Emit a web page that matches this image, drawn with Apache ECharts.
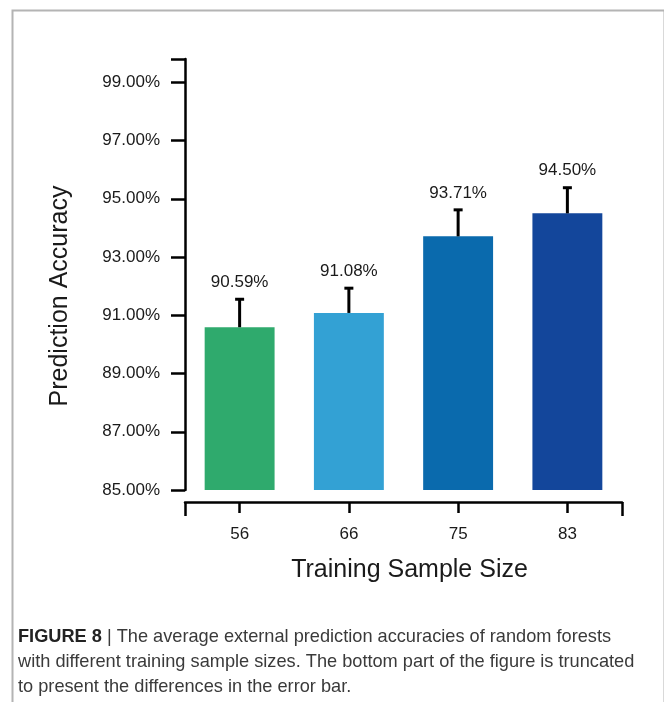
<!DOCTYPE html>
<html>
<head>
<meta charset="utf-8">
<title>Prediction accuracy by training sample size</title>
<script src="https://cdn.jsdelivr.net/npm/echarts@6/dist/echarts.min.js"></script>
<style>
  html, body { margin: 0; padding: 0; background: #ffffff; }
  #chart { width: 664px; height: 702px; }
</style>
</head>
<body>
<div id="chart"></div>
<script>
// Training sample sizes (categories)
const sampleSizes = ['56', '66', '75', '83'];
// Mean external prediction accuracy (%)
const accuracy = [90.59, 91.08, 93.71, 94.50];
// Upper error-bar length (percentage points)
const errorUpper = [0.96, 0.85, 0.91, 0.88];
// Bar fill colours
const barColors = ['#2faa6d', '#33a1d4', '#0a6aad', '#13469b'];
// Labelled y ticks
const yTickValues = [85, 87, 89, 91, 93, 95, 97, 99];
const yMin = 85;
const yMax = 99.8;

const FONT = '"Liberation Sans", Arial, Helvetica, sans-serif';
const INK = '#1a1a1a';

const chart = echarts.init(document.getElementById('chart'), null, { renderer: 'canvas' });

const option = {
  animation: false,
  backgroundColor: '#ffffff',
  grid: { left: 185, right: 42, top: 59, bottom: 212, containLabel: false },
  xAxis: [
    {
      type: 'category',
      data: sampleSizes,
      position: 'bottom',
      offset: 12,
      axisLine: { show: true, lineStyle: { color: '#000', width: 2.5 } },
      axisTick: { show: true, alignWithLabel: true, length: 11, lineStyle: { color: '#000', width: 2.5 } },
      axisLabel: { fontFamily: FONT, fontSize: 17, color: INK, margin: 24 },
      name: 'Training Sample Size',
      nameLocation: 'middle',
      nameGap: 56,
      nameTextStyle: { fontFamily: FONT, fontSize: 25, color: INK, padding: [0, 0, 0, 12] }
    },
    {
      type: 'value',
      min: 0,
      max: sampleSizes.length,
      position: 'bottom',
      offset: 12,
      axisLine: { show: false },
      axisTick: { show: true, length: 14, customValues: [0, sampleSizes.length], lineStyle: { color: '#000', width: 2.5 } },
      axisLabel: { show: false },
      splitLine: { show: false }
    }
  ],
  yAxis: {
    type: 'value',
    min: yMin,
    max: yMax,
    interval: 2,
    axisLine: { show: true, lineStyle: { color: '#000', width: 2.5 } },
    axisTick: { show: true, length: 14, customValues: yTickValues.concat([yMax]), lineStyle: { color: '#000', width: 2.5 } },
    axisLabel: {
      customValues: yTickValues,
      fontFamily: FONT, fontSize: 17, color: INK, margin: 25,
      formatter: v => v.toFixed(2) + '%'
    },
    splitLine: { show: false }
  },
  series: [
    {
      type: 'bar',
      xAxisIndex: 0,
      barWidth: '64%',
      data: accuracy.map((v, i) => ({ value: v, itemStyle: { color: barColors[i] } }))
    },
    {
      // upper error bars with the mean accuracy written above each cap
      type: 'custom',
      xAxisIndex: 0,
      z: 5,
      data: accuracy.map((v, i) => [i, v, errorUpper[i]]),
      renderItem: (params, api) => {
        const idx = api.value(0);
        const mean = api.value(1);
        const err = api.value(2);
        const base = api.coord([idx, mean]);
        const top = api.coord([idx, mean + err]);
        const cap = 4.5;
        const stroke = { stroke: '#000', lineWidth: 3 };
        return {
          type: 'group',
          children: [
            { type: 'line', shape: { x1: base[0], y1: base[1], x2: top[0], y2: top[1] }, style: stroke },
            { type: 'line', shape: { x1: top[0] - cap, y1: top[1], x2: top[0] + cap, y2: top[1] }, style: stroke },
            {
              type: 'text',
              x: top[0], y: top[1] - 17,
              style: {
                text: mean.toFixed(2) + '%',
                fill: INK, font: '17px ' + FONT,
                align: 'center', verticalAlign: 'middle'
              }
            }
          ]
        };
      }
    }
  ],
  graphic: [
    {
      type: 'rect',
      left: 10, top: 8,
      shape: { x: 0, y: 0, width: 652, height: 720 },
      style: { fill: 'none', stroke: '#b4b4b4', lineWidth: 2 },
      silent: true
    },
    {
      // y-axis title, rotated to read bottom-to-top
      type: 'text',
      x: 60, y: 296,
      rotation: Math.PI / 2,
      style: {
        text: 'Prediction Accuracy',
        font: '25px ' + FONT,
        fill: INK,
        align: 'center', verticalAlign: 'middle'
      }
    },
    {
      type: 'text',
      left: 18, top: 624,
      style: {
        text: '{b|FIGURE 8} | The average external prediction accuracies of random forests\nwith different training sample sizes. The bottom part of the figure is truncated\nto present the differences in the error bar.',
        font: '18.2px ' + FONT,
        fill: '#3a3a3a',
        lineHeight: 25,
        rich: {
          b: { fontWeight: 'bold', fontFamily: FONT, fontSize: 18.2, fill: '#222', lineHeight: 25 }
        }
      }
    }
  ]
};

chart.setOption(option);
</script>
</body>
</html>
